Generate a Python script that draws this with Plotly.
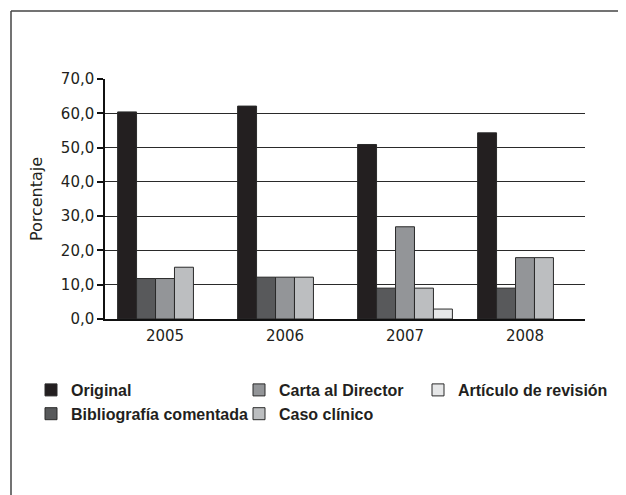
import plotly.graph_objects as go

years = ["2005", "2006", "2007", "2008"]
series_names = ["Original", "Bibliografía comentada", "Carta al Director", "Caso clínico", "Artículo de revisión"]
original = [60.4, 62.1, 50.9, 54.3]
bibliografia = [11.8, 12.2, 9.0, 9.0]
carta = [11.8, 12.2, 26.9, 17.9]
caso = [15.1, 12.2, 9.0, 17.9]
articulo = [0.0, 0.0, 2.9, 0.0]
colors = ["#231f20", "#58595b", "#939598", "#bcbec0", "#e6e7e8"]
y_ticks = [0, 10, 20, 30, 40, 50, 60, 70]

values = [original, bibliografia, carta, caso, articulo]
legend_ids = ["legend", "legend", "legend2", "legend2", "legend3"]

# page offset (body margin) compensation
OFF = 8
W, H = 626 - OFF, 495 - OFF
L, R, T, B = 105 - OFF, 41, 79 - OFF, 176
pw, ph = W - L - R, H - T - B


def px_x(p):  # screen px -> paper
    return (p - OFF - L) / pw


def px_y(p):
    return (H - B - (p - OFF)) / ph


fig = go.Figure()
for name, vals, col, lg in zip(series_names, values, colors, legend_ids):
    fig.add_trace(go.Bar(
        x=years, y=[v if v else None for v in vals], name=name, legend=lg,
        marker=dict(color=col, line=dict(color="#2a2a2a", width=1)),
    ))

legend_font = dict(family="Liberation Sans", size=16, color="#231f20", weight="bold")
common_legend = dict(orientation="v", yanchor="top", xanchor="left", bgcolor="rgba(0,0,0,0)",
                     font=legend_font, tracegroupgap=0, itemwidth=30)

fig.update_layout(
    width=W, height=H,
    margin=dict(l=L, r=R, t=T, b=B, autoexpand=False),
    paper_bgcolor="white", plot_bgcolor="white",
    barmode="group", bargap=0.21, bargroupgap=0,
    separators=",.",
    font=dict(family="DejaVu Sans", size=15, color="#231f20"),
    legend=dict(x=px_x(31), y=px_y(373), **common_legend),
    legend2=dict(x=px_x(239), y=px_y(373), **common_legend),
    legend3=dict(x=px_x(418), y=px_y(373), **common_legend),
    xaxis=dict(
        showline=True, linecolor="#111", linewidth=2, ticks="",
        tickfont=dict(family="DejaVu Sans", size=15, color="#231f20"),
        showgrid=False, zeroline=False, ticklabelstandoff=2,
    ),
    yaxis=dict(
        range=[0, 70], tickvals=y_ticks, tickformat=".1f",
        showline=True, linecolor="#111", linewidth=1.5,
        ticks="outside", ticklen=6, tickcolor="#111", tickwidth=1.5,
        showgrid=True, gridcolor="#2a2a2a", gridwidth=1.2,
        zeroline=False,
        tickfont=dict(family="DejaVu Sans", size=15, color="#231f20"),
        title=dict(text="Porcentaje", font=dict(family="DejaVu Sans", size=16, color="#231f20"), standoff=14),
    ),
    shapes=[
        dict(type="line", xref="paper", yref="paper", x0=px_x(11), x1=px_x(640), y0=px_y(11), y1=px_y(11),
             line=dict(color="#444", width=1.5)),
        dict(type="line", xref="paper", yref="paper", x0=px_x(11), x1=px_x(11), y0=px_y(11), y1=px_y(500),
             line=dict(color="#444", width=1.5)),
    ],
)

fig.write_html("out.html")
